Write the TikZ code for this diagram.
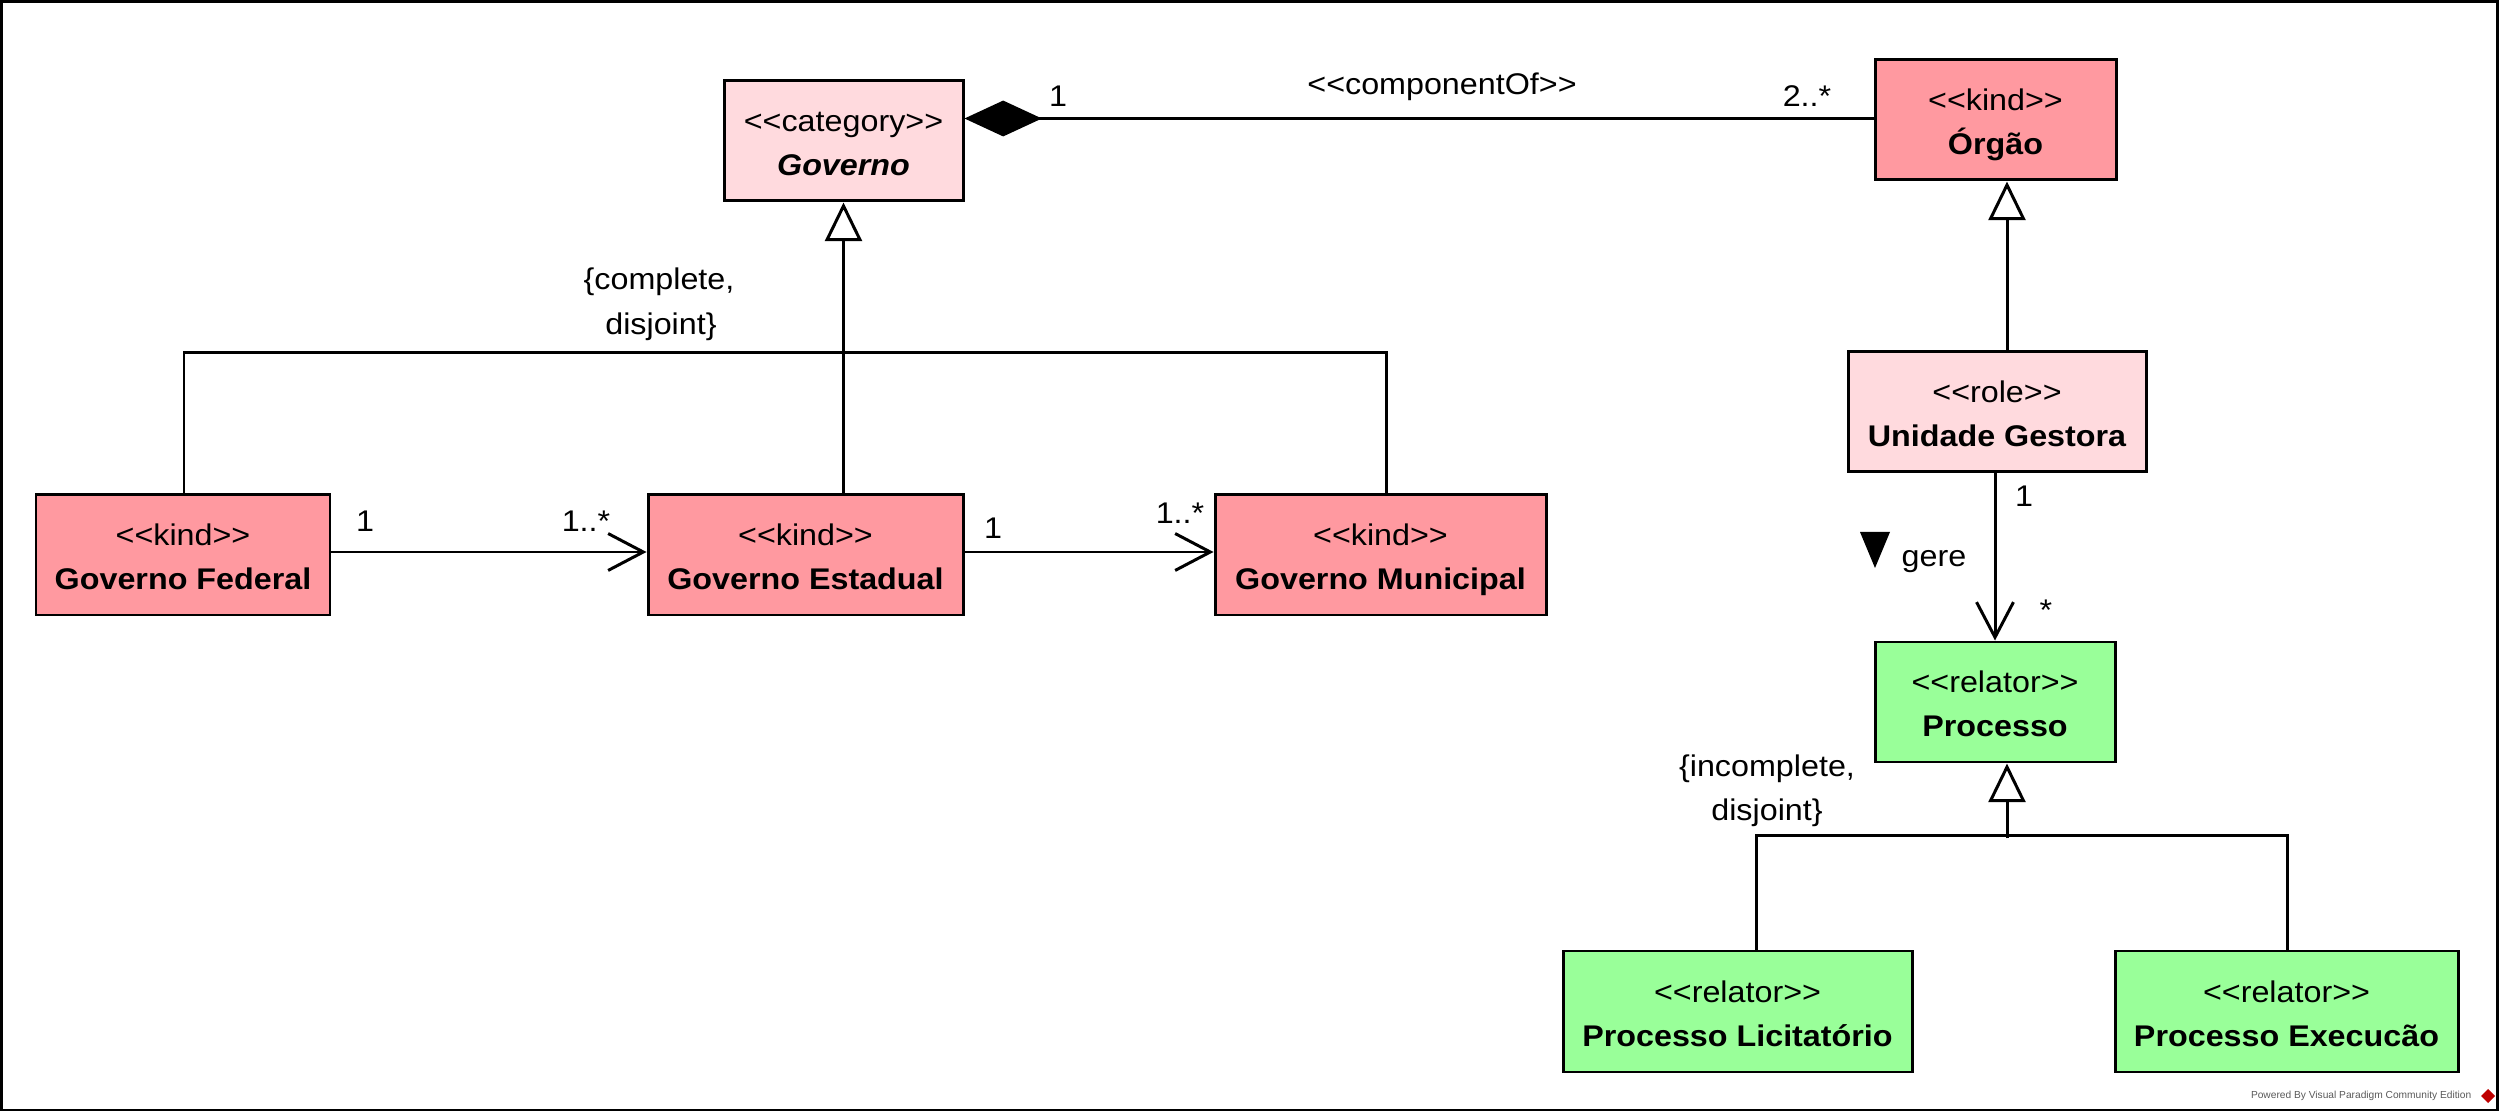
\documentclass[tikz,border=0pt]{standalone}
\usepackage{fontspec}
\setmainfont{Liberation Sans}[FakeStretch=1.08]
\newfontfamily\wmfont{Liberation Sans}
\usetikzlibrary{arrows.meta,fit,calc}
\definecolor{kindc}{RGB}{255,153,160}
\definecolor{lightc}{RGB}{255,218,222}
\definecolor{relc}{RGB}{153,255,153}
\newcommand{\stereo}[1]{<\kern0pt<#1>\kern0pt>}
\tikzset{
  umlbox/.style={draw, line width=0.85pt, inner sep=0pt},
  txt/.style={inner sep=0pt, anchor=base, font=\fontsize{8.5}{10}\selectfont},
  ln/.style={line width=0.85pt},
  gen/.style={ln, -{Triangle[length=11pt, width=10.5pt, fill=white]}},
  nav/.style={ln, -{Straight Barb[length=10pt, width=10.5pt]}},
  comp/.style={ln, {Diamond[length=22pt, width=10.2pt]}-},
}
\newcommand{\umlclass}[6]{%
  \node[umlbox, fill=#2, fit={#3 #4}] (#1) {};
  \node[txt] (#1-s) at ($(#1.center)+(0,-9)$) {\stereo{#5}};
  \node[txt] (#1-n) at ($(#1.center)+(0,35)$) {\bfseries #6};
}
\begin{document}
\begin{tikzpicture}[x=0.01cm, y=-0.01cm]
\useasboundingbox (0,0) rectangle (2499,1113);
\draw[line width=0.85pt] (1.5,1.5) rectangle (2497.5,1110);

% classes
\umlclass{gov}{lightc}{(724,81)}{(963,201)}{category}{\itshape Governo}
\umlclass{org}{kindc}{(1875,60)}{(2116,180)}{kind}{Órgão}
\umlclass{gest}{lightc}{(1848,352)}{(2146,472)}{role}{Unidade Gestora}
\umlclass{proc}{relc}{(1875,642)}{(2115,762)}{relator}{Processo}
\umlclass{fed}{kindc}{(36,495)}{(330,615)}{kind}{Governo Federal}
\umlclass{est}{kindc}{(648,495)}{(963,615)}{kind}{Governo Estadual}
\umlclass{mun}{kindc}{(1215,495)}{(1546,615)}{kind}{Governo Municipal}
\umlclass{lic}{relc}{(1563,951)}{(1912,1072)}{relator}{Processo Licitatório}
\umlclass{exe}{relc}{(2115,951)}{(2458,1072)}{relator}{Processo Execucão}

% composition
\draw[comp] ($(gov.north east)+(0,39)$) -- ($(org.north west)+(0,60)$);
\node[txt] (c1) at (1058,107) {1};
\node[txt] (cof) at (1442,95) {\stereo{componentOf}};
\node[txt] (c2) at (1807,107) {2..*};

% generalization Governo
\draw[ln] ($(fed.north)+(1,0)$) -- ++(0,-141) -| ($(mun.north)+(6,0)$);
\draw[gen] (gov.south |- est.north) -- (gov.south);
\node[txt] (gs1) at (659,290) {\{complete,};
\node[txt] (gs2) at (661,335) {disjoint\}};

% associations
\draw[nav] ($(fed.east)+(0,-3)$) -- ($(est.west)+(0,-3)$);
\node[txt] (a1) at (365,532) {1};
\node[txt] (a2) at (586,532) {1..*};
\draw[nav] ($(est.east)+(0,-3)$) -- ($(mun.west)+(0,-3)$);
\node[txt] (a3) at (993,539) {1};
\node[txt] (a4) at (1180,524) {1..*};

% generalization Orgao
\draw[gen] ($(gest.north)+(10,0)$) coordinate (go) -- (go |- org.south);

% gere
\draw[nav] (proc.north |- gest.south) -- (proc.north);
\node[txt] (g1) at (2024,507) {1};
\node[txt] (g2) at (2046,621) {*};
\fill (1860,532) -- (1890,532) -- (1875,568) -- cycle;
\node[txt] (gere) at (1934,567) {gere};

% generalization Processo
\draw[ln] ($(lic.north)+(18.5,0)$) -- ++(0,-114) -| ($(exe.north)+(0.5,0)$);
\draw[gen] ($(proc.south)+(12,75)$) -- ($(proc.south)+(12,0)$);
\node[txt] (ps1) at (1767,777) {\{incomplete,};
\node[txt] (ps2) at (1767,821) {disjoint\}};

% watermark
\node[anchor=base east, inner sep=0pt, font=\wmfont\fontsize{2.9}{3}\selectfont, text=black!65] (wm) at (2472,1099) {Powered By Visual Paradigm Community Edition};
\fill[red!75!black] (2488,1089) -- (2495,1096) -- (2488,1103) -- (2481,1096) -- cycle;
\end{tikzpicture}
\end{document}
